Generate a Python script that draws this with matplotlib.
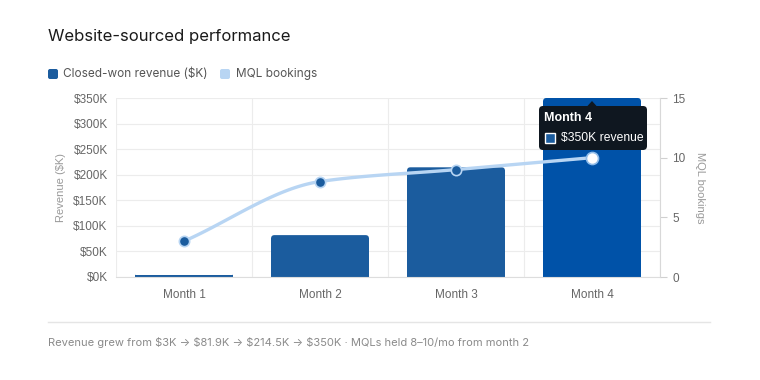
import numpy as np
import matplotlib
matplotlib.use("Agg")
import matplotlib.pyplot as plt
from matplotlib.patches import FancyBboxPatch, Rectangle, Polygon
from matplotlib.lines import Line2D

months = ["Month 1", "Month 2", "Month 3", "Month 4"]
revenue_k = [3, 81.9, 214.5, 350]
mql_bookings = [3, 8, 9, 10]
rev_ticks = [0, 50, 100, 150, 200, 250, 300, 350]
mql_ticks = [0, 5, 10, 15]

BAR = "#1b5c9e"
BAR_HOVER = "#0052a8"
LINE = "#b8d5f3"
GRID = "#ececec"
TICK = "#666666"

plt.rcParams["font.family"] = ["Liberation Sans", "DejaVu Sans"]
plt.rcParams["text.parse_math"] = False


def pchip(x, y, n=40):
    # monotone cubic, only used to draw the smooth connecting curve
    x = np.asarray(x, float)
    y = np.asarray(y, float)
    h = np.diff(x)
    d = np.diff(y) / h
    m = np.zeros_like(y)
    m[0], m[-1] = d[0], d[-1]
    for i in range(1, len(y) - 1):
        if d[i - 1] * d[i] > 0:
            m[i] = 2 / (1 / d[i - 1] + 1 / d[i])
    xs, ys = [], []
    for i in range(len(h)):
        t = np.linspace(0, 1, n)
        h00 = 2 * t**3 - 3 * t**2 + 1
        h10 = t**3 - 2 * t**2 + t
        h01 = -2 * t**3 + 3 * t**2
        h11 = t**3 - t**2
        xs.append(x[i] + t * h[i])
        ys.append(h00 * y[i] + h10 * h[i] * m[i] + h01 * y[i + 1] + h11 * h[i] * m[i + 1])
    return np.concatenate(xs), np.concatenate(ys)


fig = plt.figure(figsize=(7.6, 3.8), dpi=100)
ax = fig.add_axes([116 / 760, 1 - 277 / 380, 544 / 760, 179 / 380])
ax2 = ax.twinx()

x = np.arange(len(months))
colors = [BAR] * (len(months) - 1) + [BAR_HOVER]
bars = ax.bar(x, revenue_k, width=0.72, color=colors, zorder=2)
# small rounded top corners
for b in bars:
    b.set_visible(False)
    r = FancyBboxPatch((b.get_x(), 0), b.get_width(), b.get_height(),
                       boxstyle="round,pad=0,rounding_size=0.025",
                       mutation_aspect=350 / 4 * 544 / 179 / 1.0,
                       facecolor=b.get_facecolor(), edgecolor="none", zorder=2)
    ax.add_patch(r)
    if b.get_height() > 10:
        ax.add_patch(Rectangle((b.get_x(), 0), b.get_width(), b.get_height() - 5,
                               facecolor=b.get_facecolor(), edgecolor="none", zorder=2))
    else:
        ax.add_patch(Rectangle((b.get_x(), 0), b.get_width(), b.get_height(),
                               facecolor=b.get_facecolor(), edgecolor="none", zorder=2))

ax.set_xlim(-0.5, len(months) - 0.5)
ax.set_ylim(0, 350)
ax.set_yticks(rev_ticks)
ax.set_yticklabels([f"${v}K" for v in rev_ticks])
ax.set_xticks(x)
ax.set_xticklabels(months)
ax.set_xticks(np.arange(-0.5, len(months), 1), minor=True)
ax.grid(True, axis="y", color=GRID, lw=0.8, zorder=0)
ax.grid(True, axis="x", which="minor", color=GRID, lw=0.8, zorder=0)
ax.tick_params(axis="both", which="both", length=0, colors=TICK, labelsize=8.5)
ax.tick_params(axis="x", pad=9)
ax.tick_params(axis="y", pad=6)
for s in ax.spines.values():
    s.set_visible(False)
ax.spines["bottom"].set_visible(True)
ax.spines["bottom"].set_color("#dddddd")
ax.set_ylabel("Revenue ($K)", color="#999999", fontsize=8, labelpad=5)

ax2.set_ylim(0, 15)
ax2.set_yticks(mql_ticks)
ax2.tick_params(axis="y", length=5, width=0.8, color="#d0d0d0", colors=TICK, labelsize=8.5, pad=4)
for s in ax2.spines.values():
    s.set_visible(False)
ax2.spines["right"].set_visible(True)
ax2.spines["right"].set_color("#d8d8d8")
ax2.set_ylabel("MQL bookings", color="#999999", fontsize=8, rotation=270, labelpad=14)

sx, sy = pchip(x, mql_bookings)
ax2.plot(sx, sy, color=LINE, lw=2.4, zorder=3, solid_capstyle="round")
ax2.scatter(x[:-1], mql_bookings[:-1], s=55, color=BAR, edgecolor=LINE, lw=1.2, zorder=4)
ax2.scatter(x[-1:], mql_bookings[-1:], s=75, color="white", edgecolor="#8fbcea", lw=1.2, zorder=4)

# tooltip on month 4
fig.canvas.draw()
px, py = ax.transData.transform((x[-1], revenue_k[-1]))
W, H = 108, 44
left, top = px - 53, py - 8
tip = FancyBboxPatch((left, top - H), W, H, boxstyle="round,pad=0,rounding_size=4",
                     transform=None, facecolor="#0f1720", edgecolor="none", zorder=10)
fig.patches.append(tip)
fig.patches.append(Polygon([[px - 5, top - 0.5], [px + 5, top - 0.5], [px, top + 5]],
                           closed=True, transform=None, facecolor="#0f1720", edgecolor="none",
                           zorder=10))
fig.patches.append(Rectangle((left + 6, top - 37), 10, 10, transform=None,
                             facecolor=BAR, edgecolor="white", lw=1, zorder=11))
fig.text((left + 5) / 760, (top - 12) / 380, "Month 4", color="white", fontsize=9,
         fontweight="bold", va="center", ha="left", zorder=12)
fig.text((left + 22) / 760, (top - 32) / 380, f"${revenue_k[-1]:.0f}K revenue", color="white",
         fontsize=8.7, va="center", ha="left", zorder=12)

# title + legend
fig.text(48 / 760, 1 - 37 / 380, "Website-sourced performance", fontsize=12,
         color="#1a1a1a", va="center", ha="left", family=["Inter", "DejaVu Sans"])
fig.patches.append(FancyBboxPatch((48, 380 - 79), 10, 10, boxstyle="round,pad=0,rounding_size=2",
                                  transform=None, facecolor=BAR, edgecolor="none"))
fig.text(63 / 760, 1 - 74 / 380, "Closed-won revenue ($K)", fontsize=8.5, color="#555555",
         va="center", ha="left", family=["Inter", "DejaVu Sans"])
fig.patches.append(FancyBboxPatch((220, 380 - 79), 10, 10, boxstyle="round,pad=0,rounding_size=2",
                                  transform=None, facecolor=LINE, edgecolor="none"))
fig.text(236 / 760, 1 - 74 / 380, "MQL bookings", fontsize=8.5, color="#555555",
         va="center", ha="left", family=["Inter", "DejaVu Sans"])

# footer
fig.add_artist(Line2D([48 / 760, 710 / 760], [1 - 322 / 380] * 2, color="#e5e5e5", lw=1))
fig.text(48 / 760, 1 - 342 / 380,
         "Revenue grew from $3K \u2192 $81.9K \u2192 $214.5K \u2192 $350K \u00b7 MQLs held 8\u201310/mo from month 2",
         fontsize=8, color="#8a8a8a", va="center", ha="left", family=["Inter", "DejaVu Sans"])

fig.savefig("out.png", dpi=100, facecolor="white")
